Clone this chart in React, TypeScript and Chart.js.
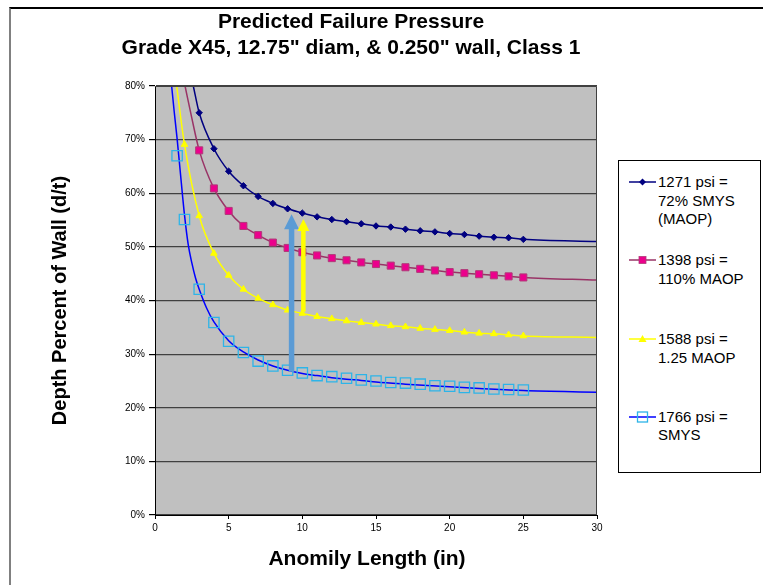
import React, { useEffect, useRef } from "react";
import { Chart, registerables } from "chart.js";

Chart.register(...registerables);

const FONT = '"Liberation Sans", Arial, Helvetica, sans-serif';

// ---------- text ----------
const titleLines = ["Predicted Failure Pressure", 'Grade X45, 12.75" diam, & 0.250" wall, Class 1'];
const xAxisTitle = "Anomily Length (in)";
const yAxisTitle = "Depth Percent of Wall (d/t)";
const seriesLabels = [
  ["1271 psi =", "72% SMYS", "(MAOP)"],
  ["1398 psi =", "110% MAOP"],
  ["1588 psi =", "1.25 MAOP"],
  ["1766 psi =", "SMYS"],
];

// ---------- axes ----------
const xMin = 0;
const xMax = 30;
const xStep = 5;
const yMin = 0;
const yMax = 80;
const yStep = 10;

// ---------- marker data (anomaly length in, depth % of wall) ----------
const lengths3to25 = [3, 4, 5, 6, 7, 8, 9, 10, 11, 12, 13, 14, 15, 16, 17, 18, 19, 20, 21, 22, 23, 24, 25];
const maopDepth = [75.0, 68.3, 64.1, 61.4, 59.4, 58.1, 57.1, 56.3, 55.6, 55.1, 54.7, 54.3, 53.9, 53.7, 53.3, 53.0, 52.8, 52.5, 52.3, 52.0, 51.8, 51.7, 51.4];
const maop110Depth = [68.0, 60.9, 56.7, 53.9, 52.2, 50.8, 49.8, 49.0, 48.4, 47.9, 47.5, 47.1, 46.8, 46.5, 46.2, 45.9, 45.6, 45.3, 45.1, 44.9, 44.7, 44.5, 44.3];
const lengths2to25 = [2, 3, 4, 5, 6, 7, 8, 9, 10, 11, 12, 13, 14, 15, 16, 17, 18, 19, 20, 21, 22, 23, 24, 25];
const maop125Depth = [69.1, 55.8, 48.8, 44.7, 42.1, 40.4, 39.2, 38.2, 37.6, 37.0, 36.6, 36.2, 35.9, 35.6, 35.3, 35.1, 34.8, 34.6, 34.4, 34.1, 33.9, 33.8, 33.6, 33.4];
const lengthsSmys = [1.5, 2, 3, 4, 5, 6, 7, 8, 9, 10, 11, 12, 13, 14, 15, 16, 17, 18, 19, 20, 21, 22, 23, 24, 25];
const smysDepth = [67.0, 55.1, 42.1, 35.9, 32.4, 30.3, 28.7, 27.8, 27.0, 26.5, 26.0, 25.8, 25.5, 25.2, 25.0, 24.7, 24.6, 24.4, 24.1, 24.0, 23.8, 23.7, 23.5, 23.4, 23.3];

// ---------- curve data ----------
const maopCurveX = [2.6, 3, 4, 5, 6, 7, 8, 9, 10, 11, 12, 13, 14, 15, 16, 17, 18, 19, 20, 21, 22, 23, 24, 25, 30];
const maopCurveY = [80, 75.0, 68.3, 64.1, 61.4, 59.4, 58.1, 57.1, 56.3, 55.6, 55.1, 54.7, 54.3, 53.9, 53.7, 53.3, 53.0, 52.8, 52.5, 52.3, 52.0, 51.8, 51.7, 51.4, 51.0];
const maop110CurveX = [2.04, 2.5, 3, 4, 5, 6, 7, 8, 9, 10, 11, 12, 13, 14, 15, 16, 17, 18, 19, 20, 21, 22, 23, 24, 25, 30];
const maop110CurveY = [80, 74.0, 68.0, 60.9, 56.7, 53.9, 52.2, 50.8, 49.8, 49.0, 48.4, 47.9, 47.5, 47.1, 46.8, 46.5, 46.2, 45.9, 45.6, 45.3, 45.1, 44.9, 44.7, 44.5, 44.3, 43.8];
const maop125CurveX = [1.47, 2, 3, 4, 5, 6, 7, 8, 9, 10, 11, 12, 13, 14, 15, 16, 17, 18, 19, 20, 21, 22, 23, 24, 25, 30];
const maop125CurveY = [80, 69.1, 55.8, 48.8, 44.7, 42.1, 40.4, 39.2, 38.2, 37.6, 37.0, 36.6, 36.2, 35.9, 35.6, 35.3, 35.1, 34.8, 34.6, 34.4, 34.1, 33.9, 33.8, 33.6, 33.4, 33.1];
const smysCurveX = [1.13, 1.3, 1.5, 1.75, 2, 2.25, 2.5, 2.75, 3, 3.5, 4, 5, 6, 7, 8, 9, 10, 11, 12, 13, 14, 15, 17, 20, 22, 25, 30];
const smysCurveY = [80, 75.3, 70.2, 63.0, 56.0, 50.5, 47.0, 44.2, 42.1, 38.6, 36.0, 32.5, 30.4, 28.9, 27.8, 27.0, 26.4, 26.0, 25.6, 25.3, 25.1, 24.8, 24.4, 23.9, 23.6, 23.2, 22.9];

// ---------- arrows (x in inches, depth from -> to) ----------
const arrowLengths = [9.27, 10.07];
const arrowFromDepth = [26.7, 37.9];
const arrowToDepth = [56.1, 55.2];

// ---------- styles ----------
const arrowStyles = [
  { color: "#5B9BD5", shaft: 5.5, headW: 15, headL: 15 },
  { color: "#FFFF00", shaft: 4.5, headW: 12, headL: 12 },
];

const zip = (xs: number[], ys: number[]) => xs.map((x, i) => ({ x, y: ys[i] }));

const plotBackground = {
  id: "plotBackground",
  beforeDraw(chart: any) {
    const { ctx, chartArea: a } = chart;
    ctx.save();
    ctx.fillStyle = "#C0C0C0";
    ctx.fillRect(a.left, a.top, a.right - a.left, a.bottom - a.top);
    ctx.restore();
  },
  afterDraw(chart: any) {
    const { ctx, chartArea: a } = chart;
    ctx.save();
    ctx.strokeStyle = "#404040";
    ctx.lineWidth = 1;
    ctx.beginPath();
    ctx.moveTo(a.left, a.top + 0.5);
    ctx.lineTo(a.right - 0.5, a.top + 0.5);
    ctx.lineTo(a.right - 0.5, a.bottom);
    ctx.stroke();
    ctx.restore();
  },
};

const arrowPlugin = {
  id: "arrows",
  afterDatasetsDraw(chart: any) {
    const { ctx } = chart;
    const xs = chart.scales.x;
    const ys = chart.scales.y;
    ctx.save();
    arrowLengths.forEach((len, i) => {
      const st = arrowStyles[i];
      const px = xs.getPixelForValue(len);
      const y0 = ys.getPixelForValue(arrowFromDepth[i]);
      const y1 = ys.getPixelForValue(arrowToDepth[i]);
      ctx.fillStyle = st.color;
      ctx.fillRect(px - st.shaft / 2, y1 + st.headL - 1, st.shaft, y0 - (y1 + st.headL - 1));
      ctx.beginPath();
      ctx.moveTo(px, y1);
      ctx.lineTo(px - st.headW / 2, y1 + st.headL);
      ctx.lineTo(px + st.headW / 2, y1 + st.headL);
      ctx.closePath();
      ctx.fill();
    });
    ctx.restore();
  },
};

function LegendIcon({ kind }: { kind: number }) {
  const lineColors = ["#000080", "#993366", "#FFFF00", "#0000FF"];
  return (
    <svg width={28} height={12} style={{ position: "absolute", left: 0, top: 3 }}>
      <line x1={0} y1={6} x2={27} y2={6} stroke={lineColors[kind]} strokeWidth={1.5} />
      {kind === 0 && <polygon points="13.5,2.5 17,6 13.5,9.5 10,6" fill="#000080" />}
      {kind === 1 && <rect x={10} y={2.5} width={7} height={7} fill="#EC008C" stroke="#B03A78" strokeWidth={0.8} />}
      {kind === 2 && <polygon points="13.5,2 17.5,9 9.5,9" fill="#FFFF00" />}
      {kind === 3 && <rect x={8.5} y={1} width={10} height={10} fill="none" stroke="#2DB4E8" strokeWidth={1.3} />}
    </svg>
  );
}

export default function App() {
  const ref = useRef<HTMLCanvasElement>(null);

  useEffect(() => {
    const canvas = ref.current;
    if (!canvas) return;
    const datasets: any[] = [
      {
        data: zip(lengths3to25, maopDepth),
        pointStyle: "rectRot",
        pointRadius: 3.2,
        pointBackgroundColor: "#000080",
        pointBorderColor: "#000080",
        pointBorderWidth: 1,
        showLine: false,
      },
      {
        data: zip(lengths3to25, maop110Depth),
        pointStyle: "rect",
        pointRadius: 5,
        pointBackgroundColor: "#EC008C",
        pointBorderColor: "#B03A78",
        pointBorderWidth: 1,
        showLine: false,
      },
      {
        data: zip(lengths2to25, maop125Depth),
        pointStyle: "triangle",
        pointRadius: 3.8,
        pointBackgroundColor: "#FFFF00",
        pointBorderColor: "#FFFF00",
        pointBorderWidth: 1,
        showLine: false,
      },
      {
        data: zip(lengthsSmys, smysDepth),
        pointStyle: "rect",
        pointRadius: 7.3,
        pointBackgroundColor: "rgba(0,0,0,0)",
        pointBorderColor: "#2DB4E8",
        pointBorderWidth: 1.3,
        showLine: false,
      },
      {
        data: zip(maopCurveX, maopCurveY),
        showLine: true,
        pointRadius: 0,
        borderColor: "#000080",
        borderWidth: 1.5,
        cubicInterpolationMode: "monotone",
      },
      {
        data: zip(maop110CurveX, maop110CurveY),
        showLine: true,
        pointRadius: 0,
        borderColor: "#993366",
        borderWidth: 1.5,
        cubicInterpolationMode: "monotone",
      },
      {
        data: zip(maop125CurveX, maop125CurveY),
        showLine: true,
        pointRadius: 0,
        borderColor: "#FFFF00",
        borderWidth: 1.5,
        cubicInterpolationMode: "monotone",
      },
      {
        data: zip(smysCurveX, smysCurveY),
        showLine: true,
        pointRadius: 0,
        borderColor: "#0000FF",
        borderWidth: 1.5,
        cubicInterpolationMode: "monotone",
      },
    ];

    const chart = new Chart(canvas, {
      type: "scatter",
      data: { datasets },
      options: {
        responsive: false,
        animation: false,
        devicePixelRatio: 1,
        layout: { padding: { left: 40, top: 86, right: 166, bottom: 0 } },
        plugins: {
          legend: { display: false },
          tooltip: { enabled: false },
          title: { display: false },
        },
        scales: {
          x: {
            type: "linear",
            min: xMin,
            max: xMax,
            ticks: { stepSize: xStep, color: "#000", font: { family: FONT, size: 10 }, padding: 3 },
            grid: { drawOnChartArea: false, drawTicks: true, tickLength: 4, color: "#000" },
            border: { color: "#000", width: 1 },
            title: { display: false },
            afterFit: (s: any) => {
              s.height = 70;
            },
          },
          y: {
            type: "linear",
            min: yMin,
            max: yMax,
            ticks: {
              stepSize: yStep,
              color: "#000",
              font: { family: FONT, size: 10 },
              padding: 4,
              callback: (v: any) => v + "%",
            },
            grid: { color: "#404040", lineWidth: 1.2, tickLength: 6, tickColor: "#000" },
            border: { color: "#000", width: 1 },
            title: {
              display: true,
              text: yAxisTitle,
              color: "#000",
              font: { family: FONT, size: 20, weight: "bold" },
              padding: { top: 8, bottom: 0 },
            },
            afterFit: (s: any) => {
              s.width = 115;
            },
          },
        },
      } as any,
      plugins: [plotBackground, arrowPlugin],
    });
    return () => chart.destroy();
  }, []);

  const itemTops = [12, 90, 169, 246.5];

  return (
    <div style={{ position: "fixed", left: 0, top: 0, width: 763, height: 585, overflow: "hidden", background: "#fff" }}>
      <div
        style={{
          position: "absolute",
          left: 9,
          top: 7,
          width: 800,
          height: 700,
          borderTop: "2px solid #000",
          borderLeft: "2px solid #808080",
        }}
      />
      <canvas ref={ref} width={763} height={585} style={{ position: "absolute", left: 0, top: 0, width: 763, height: 585 }} />
      <div
        style={{
          position: "absolute",
          left: 0,
          top: 8,
          width: 702,
          textAlign: "center",
          fontFamily: FONT,
          fontWeight: "bold",
          fontSize: 21,
          lineHeight: "26px",
          color: "#000",
        }}
      >
        {titleLines.map((t, i) => (
          <div key={i}>{t}</div>
        ))}
      </div>
      <div
        style={{
          position: "absolute",
          left: 167,
          top: 544,
          width: 400,
          textAlign: "center",
          fontFamily: FONT,
          fontWeight: "bold",
          fontSize: 21,
          lineHeight: "28px",
          color: "#000",
        }}
      >
        {xAxisTitle}
      </div>
      <div
        style={{
          position: "absolute",
          left: 618,
          top: 160,
          width: 143,
          height: 313,
          boxSizing: "border-box",
          border: "1px solid #000",
          background: "#fff",
        }}
      >
        {seriesLabels.map((lines, i) => (
          <div key={i} style={{ position: "absolute", left: 10, top: itemTops[i], width: 130 }}>
            <LegendIcon kind={i} />
            <div
              style={{
                position: "absolute",
                left: 29,
                top: 0,
                whiteSpace: "nowrap",
                fontFamily: FONT,
                fontSize: 15,
                lineHeight: "18.5px",
                color: "#000",
              }}
            >
              {lines.map((l, j) => (
                <div key={j}>{l}</div>
              ))}
            </div>
          </div>
        ))}
      </div>
    </div>
  );
}
